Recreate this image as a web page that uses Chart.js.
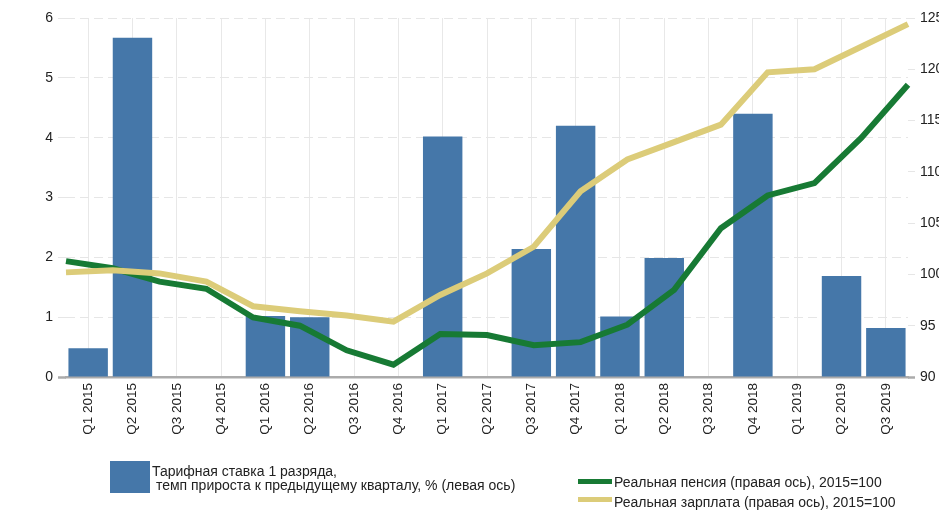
<!DOCTYPE html>
<html>
<head>
<meta charset="utf-8">
<script src="https://cdn.jsdelivr.net/npm/chart.js@4.4.0/dist/chart.umd.min.js"></script>
<style>
  html, body { margin: 0; padding: 0; background: #fff; }
  #wrap { position: relative; width: 939px; height: 511px; overflow: hidden; font-family: "Liberation Sans", Arial, Helvetica, sans-serif; color: #222; }
  #c { position: absolute; left: 0; top: 0; }
  .lg { position: absolute; font-size: 14px; line-height: 14px; white-space: pre; }
  .sw { position: absolute; }
</style>
</head>
<body>
<div id="wrap">
  <canvas id="c" width="939" height="511"></canvas>
  <div class="sw" style="left:110px;top:461px;width:40px;height:32px;background:#4577a9;"></div>
  <div class="lg" style="left:152px;top:464px;">Тарифная ставка 1 разряда,
 темп прироста к предыдущему кварталу, % (левая ось)</div>
  <div class="sw" style="left:578px;top:479px;width:34px;height:5px;background:#177a34;"></div>
  <div class="lg" style="left:614px;top:475px;">Реальная пенсия (правая ось), 2015=100</div>
  <div class="sw" style="left:578px;top:497px;width:34px;height:5px;background:#dccc79;"></div>
  <div class="lg" style="left:614px;top:495px;">Реальная зарплата (правая ось), 2015=100</div>
</div>
<script>
const quarters = ['Q1 2015','Q2 2015','Q3 2015','Q4 2015','Q1 2016','Q2 2016','Q3 2016','Q4 2016','Q1 2017','Q2 2017','Q3 2017','Q4 2017','Q1 2018','Q2 2018','Q3 2018','Q4 2018','Q1 2019','Q2 2019','Q3 2019'];
const tariffGrowth = [0.48,5.67,null,null,1.02,1.0,null,null,4.02,null,2.14,4.2,1.01,1.99,null,4.4,null,1.69,0.82];
const realPension = [101.3,100.6,99.3,98.6,95.8,95.0,92.6,91.2,94.2,94.1,93.1,93.4,95.1,98.5,104.5,107.7,108.9,113.3,118.5];
const realWage = [100.2,100.4,100.1,99.3,96.9,96.4,96.0,95.4,98.0,100.1,102.7,108.1,111.2,112.9,114.6,119.7,120.0,122.2,124.4];

const seriesNames = ['Тарифная ставка 1 разряда, темп прироста к предыдущему кварталу, % (левая ось)','Реальная пенсия (правая ось), 2015=100','Реальная зарплата (правая ось), 2015=100'];

const FONT = '"Liberation Sans", Arial, Helvetica, sans-serif';
const GRID = '#e6e6e6';
const AXIS = '#ababab';

new Chart(document.getElementById('c'), {
  type: 'bar',
  data: {
    labels: quarters,
    datasets: [
      { type: 'bar', label: seriesNames[0], data: tariffGrowth, backgroundColor: '#4577a9', borderWidth: 0,
        grouped: false, barPercentage: 0.89, categoryPercentage: 1, xAxisID: 'x', yAxisID: 'y', order: 3 },
      { type: 'line', label: seriesNames[1], data: realPension, borderColor: '#177a34', borderWidth: 6,
        pointRadius: 0, tension: 0, fill: false, xAxisID: 'x2', yAxisID: 'y1', order: 2 },
      { type: 'line', label: seriesNames[2], data: realWage, borderColor: '#dccc79', borderWidth: 6,
        pointRadius: 0, tension: 0, fill: false, xAxisID: 'x2', yAxisID: 'y1', order: 1 }
    ]
  },
  options: {
    responsive: false,
    devicePixelRatio: 1,
    animation: false,
    layout: { padding: { top: 18, left: 0, right: 0, bottom: 0 } },
    plugins: { legend: { display: false }, tooltip: { enabled: false } },
    scales: {
      x: {
        type: 'category',
        position: 'bottom',
        offset: true,
        grid: { display: true, offset: false, color: '#e8e8e8', lineWidth: 1, drawTicks: false, tickLength: 0 },
        border: { display: true, color: AXIS, width: 2.5 },
        ticks: { minRotation: 90, maxRotation: 90, autoSkip: false, padding: 6, color: '#222', font: { family: FONT, size: 13.5 } },
        afterFit: (s) => { s.height = 134; }
      },
      x2: {
        type: 'category',
        axis: 'x',
        display: false,
        offset: false
      },
      y: {
        position: 'left',
        min: 0, max: 6,
        ticks: { stepSize: 1, padding: 5, color: '#222', font: { family: FONT, size: 14 } },
        grid: {
          color: (ctx) => (ctx.tick && ctx.tick.value === 0) ? 'rgba(0,0,0,0)' : GRID,
          tickColor: (ctx) => (ctx.tick && ctx.tick.value === 0) ? AXIS : GRID,
          tickWidth: (ctx) => (ctx.tick && ctx.tick.value === 0) ? 2.5 : 1,
          lineWidth: 1,
          tickLength: 8
        },
        border: { display: false, dash: [9, 5] },
        afterFit: (s) => { s.width = 66; }
      },
      y1: {
        position: 'right',
        min: 90, max: 125,
        ticks: { stepSize: 5, padding: 5, color: '#222', font: { family: FONT, size: 14 } },
        grid: {
          drawOnChartArea: false,
          tickColor: (ctx) => (ctx.tick && ctx.tick.value === 90) ? AXIS : GRID,
          tickWidth: (ctx) => (ctx.tick && ctx.tick.value === 90) ? 2.5 : 1,
          tickLength: 7
        },
        border: { display: false },
        afterFit: (s) => { s.width = 31; }
      }
    }
  }
});
</script>
</body>
</html>
